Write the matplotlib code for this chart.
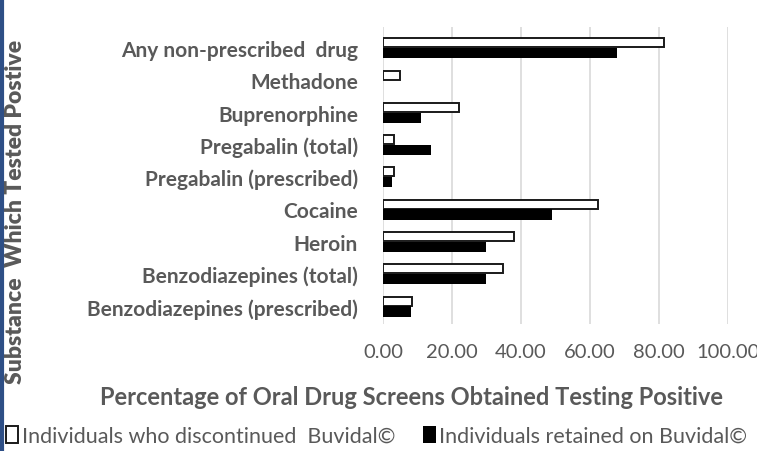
import numpy as np
import matplotlib.pyplot as plt
from matplotlib.lines import Line2D

# categories top to bottom, as on the chart
categories = ["Any non-prescribed  drug", "Methadone", "Buprenorphine",
              "Pregabalin (total)", "Pregabalin (prescribed)", "Cocaine",
              "Heroin", "Benzodiazepines (total)", "Benzodiazepines (prescribed)"]
discontinued = [81.4, 5.0, 22.1, 3.2, 3.2, 62.2, 38.1, 34.7, 8.4]
retained = [67.8, 0.0, 10.9, 13.8, 2.7, 49.1, 29.8, 29.8, 8.0]
xticks = [0, 20, 40, 60, 80, 100]

txt = '#595959'
plt.rcParams['font.family'] = ['Lato', 'DejaVu Sans']

fig = plt.figure(figsize=(7.57, 4.52), dpi=100)
ax = fig.add_axes([383 / 757, 1 - 325 / 452, (728 - 383) / 757, (325 - 28) / 452])

y = np.arange(len(categories))
h = 0.28
ax.barh(y - h / 2 - 0.02, discontinued, height=h, color='white', edgecolor='#1a1a1a',
        linewidth=1.4, zorder=3, label="Individuals who discontinued  Buvidal\u00a9")
ax.barh(y + h / 2 + 0.02, retained, height=h * 1.15, color='black', linewidth=0,
        zorder=3, label="Individuals retained on Buvidal\u00a9")

ax.set_ylim(len(categories) - 0.45, -0.65)
ax.set_xlim(0, 100)
ax.set_xticks(xticks)
ax.set_xticklabels([f"{v:.2f}" for v in xticks], color=txt, fontsize=14.5)
ax.set_yticks(y)
ax.set_yticklabels(categories, color=txt, fontsize=15, fontweight='bold')
ax.tick_params(length=0, axis='both')
ax.tick_params(axis='x', pad=14)
ax.tick_params(axis='y', pad=18)
ax.grid(axis='x', color='#d9d9d9', linewidth=1.2, zorder=0)
for s in ax.spines.values():
    s.set_visible(False)

ax.set_xlabel("Percentage of Oral Drug Screens Obtained Testing Positive",
              color=txt, fontsize=17, fontweight='bold')
ax.xaxis.set_label_coords(0.084, -0.205)
fig.text(16 / 757, 1 - 212 / 452, "Substance  Which Tested Postive", rotation=90,
         color=txt, fontsize=16.5, fontweight='heavy', ha='center', va='center')

leg = fig.legend(loc='lower left', bbox_to_anchor=(-0.004, -0.008), ncol=2, frameon=False,
                 fontsize=15.5, handlelength=0.6, handleheight=0.8, handletextpad=0.15,
                 columnspacing=1.3, borderaxespad=0.0)
for t in leg.get_texts():
    t.set_color(txt)

# dark blue frame edge on the left
fig.add_artist(Line2D([0.002, 0.002], [0, 1], color='#2e4f86', linewidth=3,
                      transform=fig.transFigure))

fig.savefig("out.png", dpi=100)
